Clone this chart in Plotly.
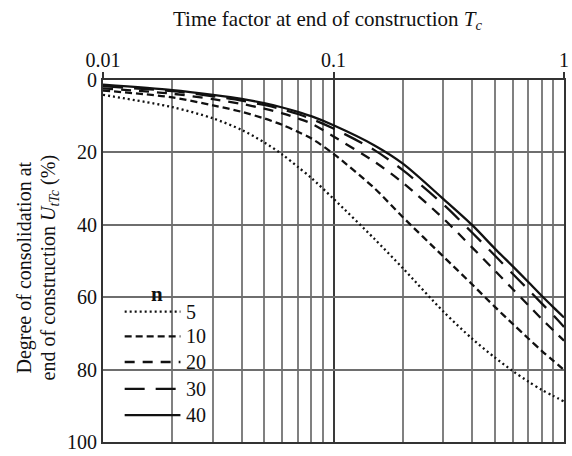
import plotly.graph_objects as go

# Time factor at end of construction, Tc
time_factor = [0.01, 0.02, 0.03, 0.04, 0.05, 0.06, 0.07, 0.08, 0.1, 0.15,
               0.2, 0.3, 0.4, 0.5, 0.6, 0.7, 0.8, 0.9, 1.0]

# Degree of consolidation at end of construction (%) for each n
u_n5 = [4.1, 7.5, 10.6, 13.8, 17.2, 20.6, 24.0, 27.0, 32.8, 43.8,
        52.0, 64.0, 71.5, 76.6, 80.4, 83.3, 85.6, 87.3, 88.8]
u_n10 = [2.9, 4.8, 7.0, 8.8, 10.6, 12.4, 14.3, 16.1, 20.4, 29.8,
         37.9, 48.8, 56.5, 62.6, 67.4, 71.4, 74.8, 77.6, 80.1]
u_n20 = [2.3, 3.8, 5.3, 6.6, 7.9, 9.2, 10.6, 12.0, 15.6, 22.5,
         28.4, 38.3, 46.3, 52.6, 57.8, 62.2, 66.0, 69.2, 72.0]
u_n30 = [1.7, 3.1, 4.5, 5.7, 6.9, 8.1, 9.4, 10.7, 13.4, 19.3,
         24.9, 34.4, 42.2, 48.4, 53.6, 57.9, 61.7, 65.0, 68.2]
u_n40 = [1.3, 2.8, 4.1, 5.2, 6.4, 7.6, 8.8, 10.0, 12.5, 18.0,
         23.1, 32.9, 40.1, 46.5, 51.5, 55.8, 59.6, 62.8, 65.6]

n_labels = ["5", "10", "20", "30", "40"]
series = [u_n5, u_n10, u_n20, u_n30, u_n40]
dashes = ["2px,3px", "7px,4px", "10px,8px", "20px,11px", "solid"]

x_tickvals = [0.01, 0.1, 1]
x_ticktext = ["0.01", "0.1", "1"]
y_tickvals = [0, 20, 40, 60, 80, 100]

FONT = "Liberation Serif, Times New Roman, serif"
INK = "#111111"

fig = go.Figure()
for lab, vals, dsh in zip(n_labels, series, dashes):
    fig.add_trace(go.Scatter(
        x=time_factor, y=vals, mode="lines", name=lab,
        line=dict(color=INK, width=2.3, dash=dsh, shape="spline", smoothing=0.8),
        showlegend=False, hoverinfo="skip",
    ))

# Hand-drawn key in the lower-left corner of the plot
key_x0, key_x1, key_text_x = 0.047, 0.168, 0.176
key_rows = [0.360, 0.292, 0.221, 0.147, 0.074]
for lab, dsh, yy in zip(n_labels, dashes, key_rows):
    fig.add_shape(type="line", xref="paper", yref="paper",
                  x0=key_x0, x1=key_x1, y0=yy, y1=yy,
                  line=dict(color=INK, width=2.3, dash=dsh))
    fig.add_annotation(xref="paper", yref="paper", x=key_text_x, y=yy,
                       text=lab, showarrow=False, xanchor="left", yanchor="middle",
                       font=dict(family=FONT, size=20, color=INK))
fig.add_annotation(xref="paper", yref="paper", x=0.117, y=0.41,
                   text="<b>n</b>", showarrow=False, xanchor="center", yanchor="middle",
                   font=dict(family=FONT, size=21, color=INK))

# Axis titles
fig.add_annotation(xref="paper", yref="paper", x=0.487, y=1.166,
                   text="Time factor at end of construction <i>T<sub>c</sub></i>",
                   showarrow=False, xanchor="center", yanchor="middle",
                   font=dict(family=FONT, size=21, color=INK))
fig.add_annotation(xref="paper", yref="paper", x=-0.170, y=0.481,
                   text="Degree of consolidation at",
                   showarrow=False, xanchor="center", yanchor="middle", textangle=-90,
                   font=dict(family=FONT, size=20, color=INK))
fig.add_annotation(xref="paper", yref="paper", x=-0.116, y=0.481,
                   text="end of construction <i>U<sub>tTc</sub></i> (%)",
                   showarrow=False, xanchor="center", yanchor="middle", textangle=-90,
                   font=dict(family=FONT, size=20, color=INK))

fig.update_layout(
    width=572, height=456,
    margin=dict(l=103, r=3, t=80, b=7),
    paper_bgcolor="white", plot_bgcolor="white",
    font=dict(family=FONT, size=20, color=INK),
    xaxis=dict(
        type="log", range=[-2, 0], side="top",
        tickvals=x_tickvals, ticktext=x_ticktext,
        ticks="outside", ticklen=6, tickwidth=2, tickcolor="#333333",
        ticklabelstandoff=-3,
        showgrid=True, gridcolor="#3a3a3a", gridwidth=2,
        minor=dict(dtick="D1", showgrid=True, gridcolor="#808080", gridwidth=2, ticks=""),
        showline=True, linecolor="#333333", linewidth=2, mirror=True,
        zeroline=False, tickfont=dict(family=FONT, size=20, color=INK),
        ticklabeloverflow="allow",
    ),
    yaxis=dict(
        range=[100, 0], tickvals=y_tickvals,
        ticks="", showgrid=True, gridcolor="#6e6e6e", gridwidth=2,
        showline=True, linecolor="#333333", linewidth=2, mirror=True,
        zeroline=False, tickfont=dict(family=FONT, size=20, color=INK),
        ticklabeloverflow="allow",
    ),
)

fig.write_html("out.html")
